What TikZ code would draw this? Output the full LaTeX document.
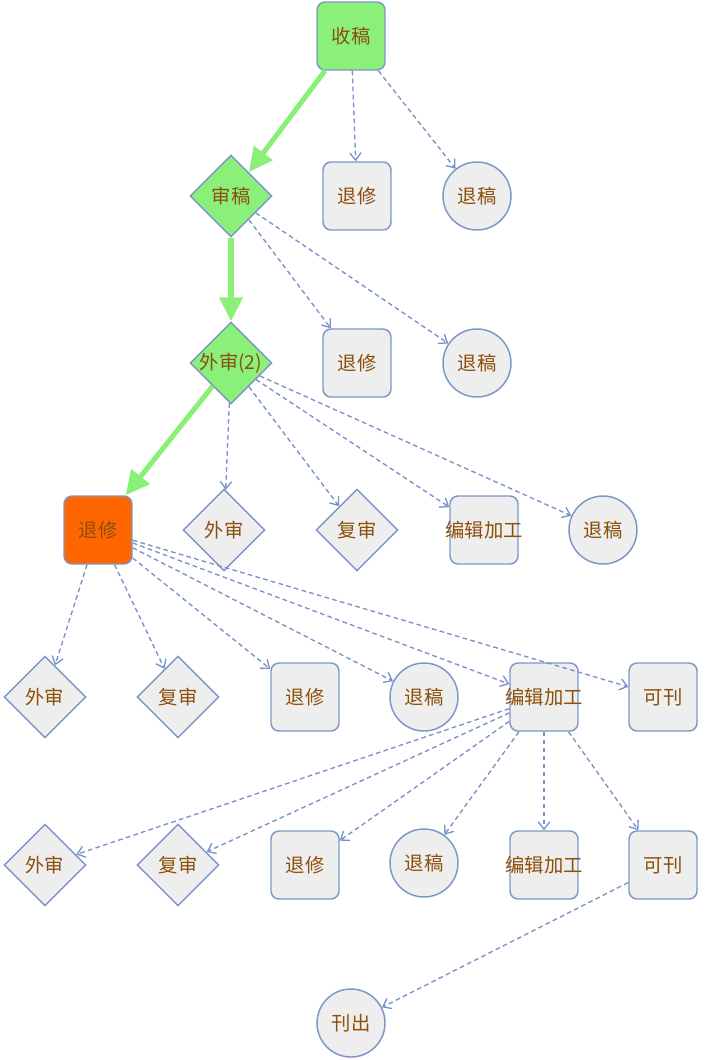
\documentclass[tikz,border=0pt]{standalone}
\usepackage{fontspec}
\newfontfamily\cjk{Noto Sans CJK SC}
\usetikzlibrary{shapes.geometric,arrows.meta}
\definecolor{nodefill}{RGB}{238,238,238}
\definecolor{nodeline}{RGB}{124,150,200}
\definecolor{edgeblue}{RGB}{120,145,200}
\definecolor{txtbrown}{RGB}{140,80,10}
\definecolor{okgreen}{RGB}{138,240,122}
\definecolor{hotorange}{RGB}{255,102,0}
\tikzset{
  base/.style={draw=nodeline, line width=1.1pt, fill=nodefill, inner sep=0pt, text=txtbrown, font=\cjk\fontsize{14.5}{16}\selectfont},
  boxn/.style={base, rectangle, rounded corners=6pt, minimum width=51pt, minimum height=51pt},
  circn/.style={base, circle, minimum size=51pt},
  dian/.style={base, diamond, minimum width=61.5pt, minimum height=61.5pt},
  dlab/.style={text=txtbrown, font=\cjk\fontsize{14.5}{16}\selectfont, inner sep=0pt},
  green/.style={fill=okgreen},
  orange/.style={fill=hotorange},
  dedge/.style={draw=edgeblue, line width=1pt, dash pattern=on 3.5pt off 2.5pt, -{Straight Barb[length=5.5pt,width=8.5pt,line width=1pt]}},
  gedge/.style={draw=okgreen, line width=3.8pt, -{Triangle[length=18pt,width=17pt]}}
}
\begin{document}
\begin{tikzpicture}[x=0.75pt,y=-0.75pt]
\useasboundingbox (0,0) rectangle (720,1060);
% row 1
\node[boxn,green] (s) at (351,36) {收稿};
% row 2
\node[dian,green,label={[dlab]center:审稿}] (r) at (231,196) {};
\node[boxn] (t2) at (357,196) {退修};
\node[circn] (k2) at (477,196) {退稿};
% row 3
\node[dian,green,label={[dlab]center:外审(2)}] (w) at (231,363) {};
\node[boxn] (t3) at (357,363) {退修};
\node[circn] (k3) at (477,363) {退稿};
% row 4
\node[boxn,orange] (t4) at (98,530) {退修};
\node[dian,label={[dlab]center:外审}] (w4) at (224,530) {};
\node[dian,label={[dlab]center:复审}] (f4) at (357,530) {};
\node[boxn] (b4) at (484,530) {\makebox[0pt]{编辑加工}};
\node[circn] (k4) at (603,530) {退稿};
% row 5
\node[dian,label={[dlab]center:外审}] (w5) at (45,697) {};
\node[dian,label={[dlab]center:复审}] (f5) at (178,697) {};
\node[boxn] (t5) at (305,697) {退修};
\node[circn] (k5) at (424,697) {退稿};
\node[boxn] (b5) at (544,697) {\makebox[0pt]{编辑加工}};
\node[boxn] (p5) at (663,697) {可刊};
% row 6
\node[dian,label={[dlab]center:外审}] (w6) at (45,865) {};
\node[dian,label={[dlab]center:复审}] (f6) at (178,865) {};
\node[boxn] (t6) at (305,865) {退修};
\node[circn] (k6) at (424,863) {退稿};
\node[boxn] (b6) at (544,865) {\makebox[0pt]{编辑加工}};
\node[boxn] (p6) at (663,865) {可刊};
% row 7
\node[circn] (o) at (351,1023) {刊出};
% edges
\draw[dedge] (s) -- (t2);
\draw[dedge] (s) -- (k2);
\draw[dedge] (r) -- (t3);
\draw[dedge] (r) -- (k3);
\draw[dedge] (w) -- (w4);
\draw[dedge] (w) -- (f4);
\draw[dedge] (w) -- (b4);
\draw[dedge] (w) -- (k4);
\draw[dedge] (t4) -- (w5);
\draw[dedge] (t4) -- (f5);
\draw[dedge] (t4) -- (t5);
\draw[dedge] (t4) -- (k5);
\draw[dedge] (t4) -- (b5);
\draw[dedge] (t4) -- (p5);
\draw[dedge] (b5) -- (w6);
\draw[dedge] (b5) -- (f6);
\draw[dedge] (b5) -- (t6);
\draw[dedge] (b5) -- (k6);
\draw[dedge] (b5) -- (b6);
\draw[dedge] (b5) -- (p6);
\draw[dedge] (p6) -- (o);
\draw[gedge] (s) -- (r);
\draw[gedge] (r) -- (w);
\draw[gedge] (w) -- (t4);
\end{tikzpicture}
\end{document}
